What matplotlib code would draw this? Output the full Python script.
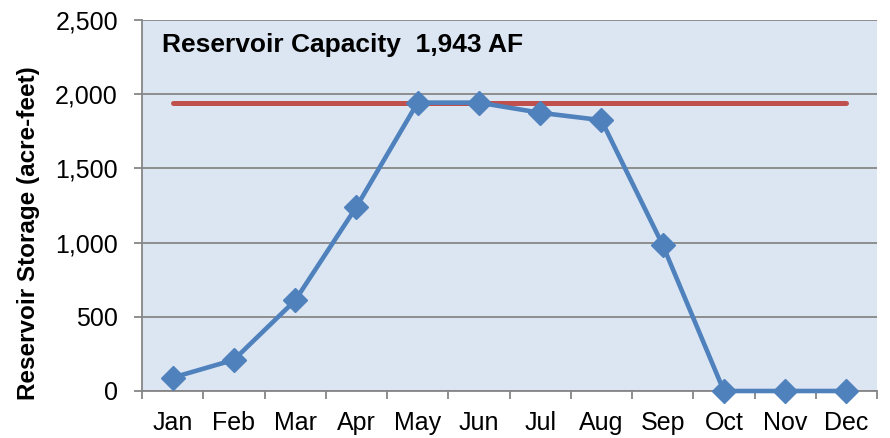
import matplotlib
matplotlib.use("Agg")
import matplotlib.pyplot as plt
import numpy as np

months = ["Jan", "Feb", "Mar", "Apr", "May", "Jun", "Jul", "Aug", "Sep", "Oct", "Nov", "Dec"]
storage = [90, 210, 610, 1240, 1943, 1943, 1875, 1825, 985, 0, 0, 0]
capacity = 1943
capacity_label = "Reservoir Capacity  1,943 AF"
yticks = [0, 500, 1000, 1500, 2000, 2500]

plt.rcParams['font.family'] = ['Liberation Sans', 'DejaVu Sans']

fig = plt.figure(figsize=(8.9, 4.38), dpi=100)
ax = fig.add_axes([142/890, 1-391/438, 735/890, 371/438])
ax.set_facecolor("#DCE6F2")

x = np.arange(len(months))
ax.plot(x, [capacity]*len(months), color="#C0504D", lw=3.6, solid_capstyle="round", zorder=3)
ax.plot(x, storage, color="#4F81BD", lw=3.3, marker="D", ms=12.5, zorder=4, clip_on=False)

ax.set_xlim(-0.5, len(months)-0.5)
ax.set_ylim(0, 2500)
ax.set_yticks(yticks)
ax.set_yticklabels([f"{v:,}" for v in yticks], fontsize=18)
ax.yaxis.grid(True, color="#868686", lw=1.3)
ax.set_axisbelow(True)

ax.set_xticks(x)
ax.set_xticklabels(months, fontsize=18)
ax.set_xticks(np.arange(-0.5, len(months)), minor=True)
ax.tick_params(axis="x", which="major", length=0, pad=14.5)
ax.tick_params(axis="x", which="minor", length=5.8, color="#868686", width=1.3, direction="out")
ax.tick_params(axis="y", length=5.8, color="#868686", width=1.3, direction="out", pad=11.5)

for s in ["top", "right"]:
    ax.spines[s].set_visible(False)
for s in ["left", "bottom"]:
    ax.spines[s].set_color("#868686")
    ax.spines[s].set_linewidth(1.3)

fig.text(29/890, 1-233/438, "Reservoir Storage (acre-feet)", rotation=90, fontsize=17.5,
         fontweight="bold", ha="center", va="center")
ax.text(20/735, 1-25/371, capacity_label, transform=ax.transAxes, fontsize=19,
        fontweight="bold", va="center", ha="left")

fig.savefig("out.png", dpi=100)
